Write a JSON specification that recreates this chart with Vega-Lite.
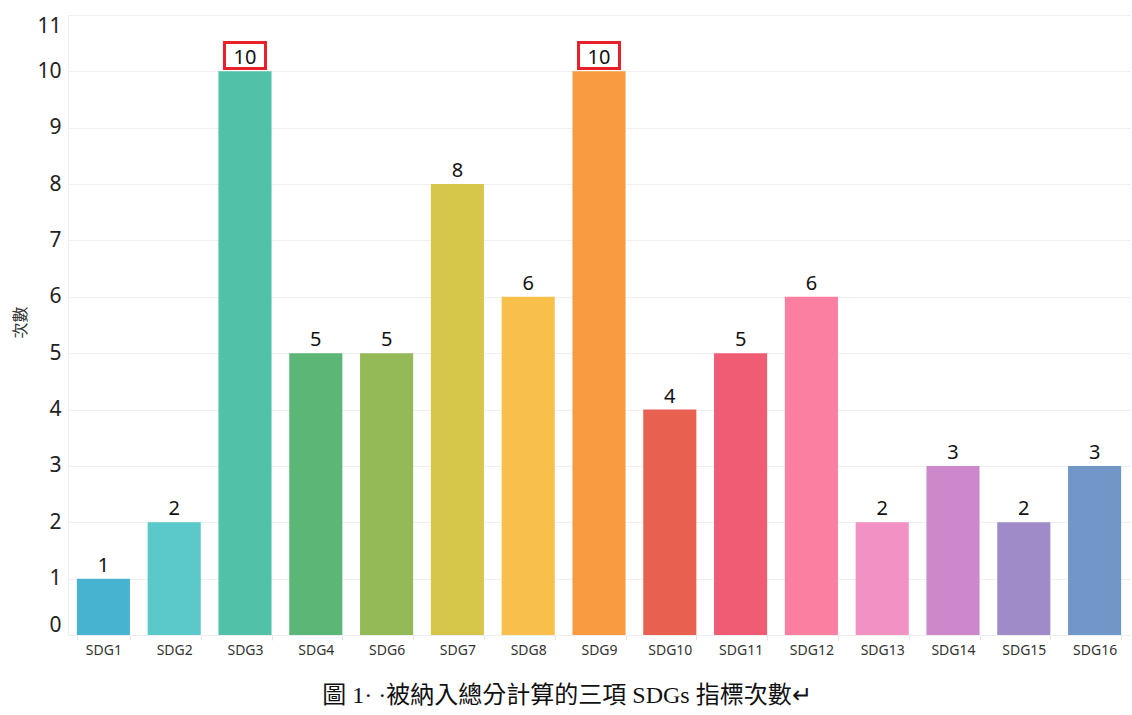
{
  "$schema": "https://vega.github.io/schema/vega-lite/v6.json",
  "autosize": "none",
  "width": 1062,
  "height": 620,
  "padding": {"left": 68, "top": 15, "right": 2, "bottom": 80},
  "background": "white",
  "config": {"view": {"stroke": null}, "font": "Noto Sans"},
  "title": {
    "text": "圖 1· ·被納入總分計算的三項 SDGs 指標次數↵",
    "orient": "bottom",
    "font": "Liberation Serif, Noto Sans CJK TC",
    "fontSize": 24,
    "fontWeight": "normal",
    "color": "#111",
    "offset": 27,
    "dx": -32
  },
  "data": {
    "values": [
      {"sdg": "SDG1", "count": 1, "color": "#47b3d1", "hl": false},
      {"sdg": "SDG2", "count": 2, "color": "#5bc9c9", "hl": false},
      {"sdg": "SDG3", "count": 10, "color": "#51c2a7", "hl": true},
      {"sdg": "SDG4", "count": 5, "color": "#5cb676", "hl": false},
      {"sdg": "SDG6", "count": 5, "color": "#93ba56", "hl": false},
      {"sdg": "SDG7", "count": 8, "color": "#d6c74b", "hl": false},
      {"sdg": "SDG8", "count": 6, "color": "#f8bf4b", "hl": false},
      {"sdg": "SDG9", "count": 10, "color": "#f99b40", "hl": true},
      {"sdg": "SDG10", "count": 4, "color": "#e8604f", "hl": false},
      {"sdg": "SDG11", "count": 5, "color": "#f05c73", "hl": false},
      {"sdg": "SDG12", "count": 6, "color": "#fb7fa0", "hl": false},
      {"sdg": "SDG13", "count": 2, "color": "#f291c3", "hl": false},
      {"sdg": "SDG14", "count": 3, "color": "#cd87cb", "hl": false},
      {"sdg": "SDG15", "count": 2, "color": "#a08bc9", "hl": false},
      {"sdg": "SDG16", "count": 3, "color": "#7097c8", "hl": false}
    ]
  },
  "encoding": {
    "x": {
      "field": "sdg",
      "type": "nominal",
      "sort": null,
      "scale": {"paddingInner": 0.25, "paddingOuter": 0.125},
      "axis": {
        "title": null,
        "labelAngle": 0,
        "labelFontSize": 14,
        "labelColor": "#333",
        "labelPadding": 3,
        "tickColor": "#e4e4e4",
        "tickSize": 5,
        "tickBand": "extent",
        "domainColor": "#eeeeee",
        "grid": false
      }
    }
  },
  "layer": [
    {
      "mark": {"type": "bar"},
      "encoding": {
        "y": {
          "field": "count",
          "type": "quantitative",
          "scale": {"domain": [0, 11], "nice": false},
          "axis": {
            "title": "次數",
            "titleFontSize": 16,
            "titleFontWeight": "normal",
            "titleColor": "#333",
            "titleFont": "Noto Sans CJK TC",
            "titleX": -48,
            "titleY": 307,
            "titleAngle": -90,
            "titleAlign": "center",
            "titleBaseline": "middle",
            "values": [0,1,2,3,4,5,6,7,8,9,10,11],
            "format": "d",
            "labelOverlap": false,
            "labelFlush": true,
            "labelFontSize": 21,
            "labelColor": "#222",
            "labelPadding": 7,
            "ticks": false,
            "domainColor": "#eeeeee",
            "gridColor": "#f0f0f0"
          }
        },
        "color": {"field": "color", "type": "nominal", "scale": null, "legend": null}
      }
    },
    {
      "mark": {"type": "text", "baseline": "bottom", "dy": -3, "fontSize": 20, "color": "#111"},
      "encoding": {
        "y": {"field": "count", "type": "quantitative"},
        "text": {"field": "count", "type": "quantitative"}
      }
    },
    {
      "transform": [{"filter": "datum.hl"}],
      "mark": {"type": "bar", "filled": false, "stroke": "#e8202a", "strokeWidth": 3, "width": 41},
      "encoding": {
        "y": {"datum": 10.05},
        "y2": {"datum": 10.51}
      }
    }
  ]
}
